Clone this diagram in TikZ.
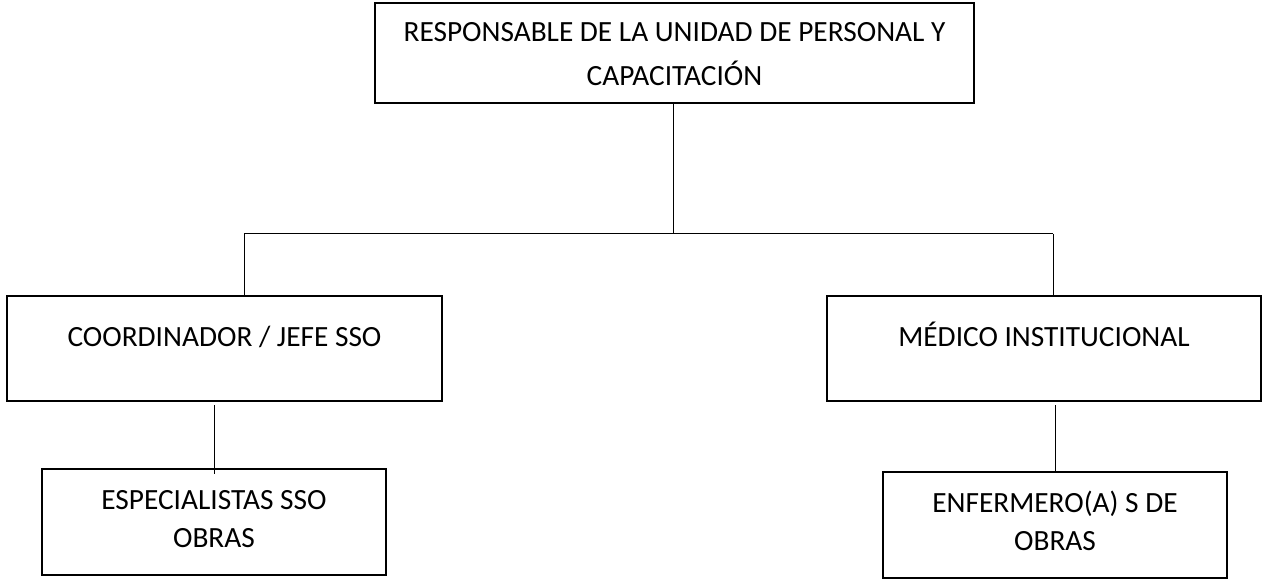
\documentclass[tikz,border=0pt]{standalone}
\usepackage{fontspec}
\setmainfont{Carlito}
\usepackage{tikz}
\usetikzlibrary{positioning,calc}

\begin{document}
\begin{tikzpicture}[
  x=0.75pt, y=-0.75pt,
  box/.style ={draw,line width=1.5pt,inner xsep=0pt,inner ysep=0pt,
               font=\fontsize{22}{28}\selectfont,align=center},
  conn/.style={line width=0.75pt},
]
\useasboundingbox (0,0) rectangle (1263,584);

\node[box,minimum width=449pt,text height=62pt,text depth=13pt,
      font=\fontsize{22}{33}\selectfont] (resp) at (674.5,53)
  {RESPONSABLE DE LA UNIDAD DE PERSONAL Y\\CAPACITACIÓN};

\node[box,minimum width=326pt,text height=38pt,text depth=41pt] (coord) at (224.5,348.5)
  {COORDINADOR / JEFE SSO};
\node[box,minimum width=325pt,text height=38pt,text depth=41pt] (medico) at (1044,348.5)
  {MÉDICO INSTITUCIONAL};

\node[box,minimum width=258pt,text height=58.5pt,text depth=21pt] (esp) at (214,522)
  {ESPECIALISTAS SSO\\OBRAS};
\node[box,minimum width=258pt,text height=58.5pt,text depth=21pt] (enf) at (1055,525)
  {ENFERMERO(A) S DE\\OBRAS};

% ramas
\coordinate (hub) at (673,234);
\coordinate (hl)  at (244,234);
\coordinate (hr)  at (1053,234);
\draw[conn] (resp.south -| hub) -- (hub);
\draw[conn] (hl) -- (hr);
\draw[conn] (hl) -- (hl |- coord.north);
\draw[conn] (hr) -- (hr |- medico.north);
\draw[conn] ($(esp.north |- coord.south)+(0,3)$) -- ($(esp.north)+(0,6)$);
\draw[conn] ($(enf.north |- medico.south)+(0,3)$) -- (enf.north);
\end{tikzpicture}
\end{document}
